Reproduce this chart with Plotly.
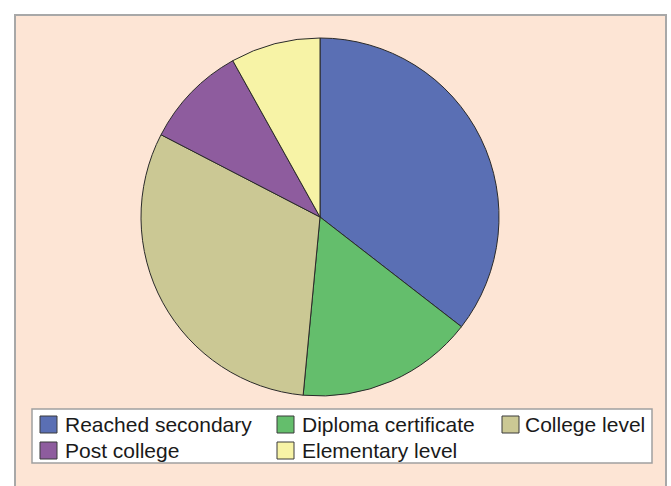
import plotly.graph_objects as go

W, H = 671, 486

categories = ["Reached secondary", "Diploma certificate", "College level",
              "Post college", "Elementary level"]
values = [35.5, 16.0, 31.1, 9.3, 8.1]
colors = ["#5A6FB4", "#64BE6C", "#CBC894", "#8E5C9E", "#F7F3A6"]

# legend layout (pixel styling)
col_swatch_x = [40, 277, 502]
col_text_x = [63, 300, 523]
row_y = [424, 450]
sw = 17

fig = go.Figure(go.Pie(
    labels=categories,
    values=values,
    sort=False,
    direction="clockwise",
    rotation=0,
    textinfo="none",
    marker=dict(colors=colors, line=dict(color="#2a2a2a", width=1)),
    domain=dict(x=[141 / W, 499 / W], y=[1 - 396 / H, 1 - 38 / H]),
    showlegend=False,
))

px = lambda x: x / W
py = lambda y: 1 - y / H

shapes = [
    dict(type="rect", xref="paper", yref="paper",
         x0=px(15), x1=px(666), y0=-0.2, y1=py(15),
         fillcolor="#FDE5D5", line=dict(color="#a8a8a8", width=2), layer="below"),
    dict(type="rect", xref="paper", yref="paper",
         x0=px(32), x1=px(652), y0=py(463), y1=py(409),
         fillcolor="white", line=dict(color="#a0a0a0", width=1.5), layer="below"),
]
annotations = []
for i, (name, col) in enumerate(zip(categories, colors)):
    r, c = divmod(i, 3)
    yc = row_y[r] + 0.5
    shapes.append(dict(type="rect", xref="paper", yref="paper",
                       x0=px(col_swatch_x[c]), x1=px(col_swatch_x[c] + sw),
                       y0=py(yc + sw / 2), y1=py(yc - sw / 2),
                       fillcolor=col, line=dict(color="#3a3a3a", width=1)))
    annotations.append(dict(xref="paper", yref="paper",
                            x=px(col_text_x[c]), y=py(row_y[r]),
                            xanchor="left", yanchor="middle", showarrow=False,
                            text=name,
                            font=dict(size=21, color="#1a1a1a",
                                      family="Liberation Sans, Arial, sans-serif")))

fig.update_layout(
    width=W, height=H,
    margin=dict(l=0, r=0, t=0, b=0, autoexpand=False),
    paper_bgcolor="white",
    plot_bgcolor="white",
    font=dict(family="Liberation Sans, Arial, sans-serif", size=21, color="#1a1a1a"),
    shapes=shapes,
    annotations=annotations,
)

fig.write_html("out.html")
